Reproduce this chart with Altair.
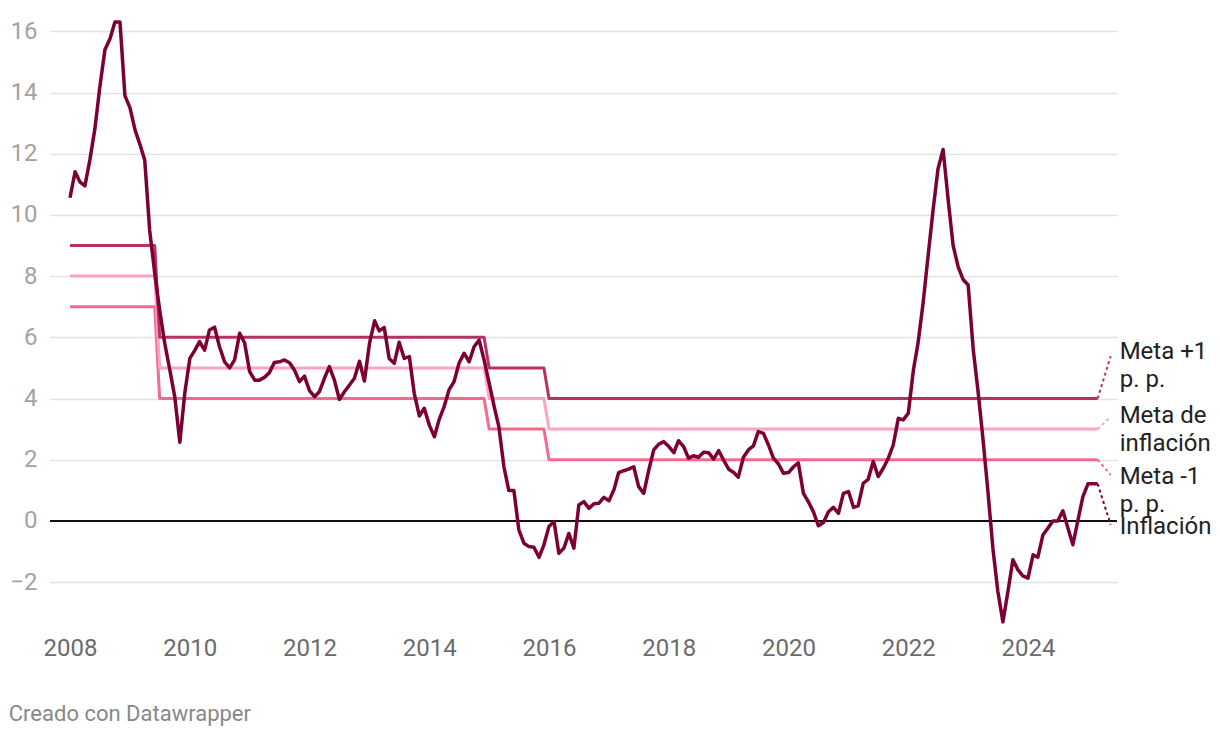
import altair as alt
import pandas as pd

# ---- data (monthly, Jan 2008 .. Mar 2025) ----
inflation = [
    10.56, 11.41, 11.08, 10.95, 11.79, 12.82, 14.18, 15.40, 15.76, 16.30,
    16.30, 13.90, 13.50, 12.77, 12.33, 11.79, 9.50, 8.09, 6.89, 5.80,
    4.93, 4.06, 2.57, 4.17, 5.31, 5.58, 5.86, 5.58, 6.24, 6.33,
    5.69, 5.20, 5.00, 5.26, 6.13, 5.82, 4.88, 4.60, 4.60, 4.69,
    4.84, 5.18, 5.20, 5.26, 5.17, 4.93, 4.55, 4.73, 4.26, 4.06,
    4.22, 4.66, 5.04, 4.60, 3.97, 4.22, 4.44, 4.66, 5.22, 4.57,
    5.80, 6.54, 6.21, 6.32, 5.31, 5.15, 5.84, 5.31, 5.37, 4.17,
    3.43, 3.68, 3.13, 2.75, 3.30, 3.73, 4.28, 4.55, 5.15, 5.48,
    5.20, 5.69, 5.91, 5.26, 4.50, 3.73, 3.08, 1.77, 0.99, 0.99,
    -0.29, -0.73, -0.84, -0.86, -1.19, -0.78, -0.18, -0.02, -1.06, -0.89,
    -0.41, -0.89, 0.52, 0.63, 0.41, 0.56, 0.58, 0.77, 0.66, 1.03,
    1.58, 1.64, 1.69, 1.77, 1.12, 0.90, 1.67, 2.32, 2.51, 2.59,
    2.43, 2.23, 2.62, 2.43, 2.05, 2.13, 2.08, 2.24, 2.23, 2.02,
    2.30, 1.99, 1.69, 1.58, 1.43, 2.08, 2.32, 2.45, 2.92, 2.86,
    2.48, 2.05, 1.86, 1.56, 1.58, 1.77, 1.90, 0.90, 0.63, 0.30,
    -0.16, -0.05, 0.30, 0.44, 0.25, 0.90, 0.96, 0.44, 0.49, 1.23,
    1.36, 1.94, 1.45, 1.72, 2.05, 2.48, 3.35, 3.30, 3.52, 4.93,
    5.80, 7.11, 8.63, 10.16, 11.50, 12.14, 10.50, 9.01, 8.30, 7.89,
    7.71, 5.60, 4.30, 2.70, 1.00, -0.90, -2.30, -3.30, -2.30, -1.27,
    -1.60, -1.80, -1.87, -1.11, -1.19, -0.46, -0.24, 0.00, 0.00, 0.33,
    -0.24, -0.78, 0.03, 0.79, 1.21, 1.21, 1.21,
]

# inflation target (step changes): value and first month it applies
target_values = [8, 5, 4, 3]
target_start = ["2008-01-01", "2009-07-01", "2015-01-01", "2016-01-01"]

series_names = ["Meta -1 p. p.", "Meta de inflación", "Meta +1 p. p.", "Inflación"]
series_colors = ["#f26b8f", "#ffa2c5", "#b8325f", "#7d0035"]

label_lines = ["Meta +1", "p. p.", "Meta de", "inflación", "Meta -1", "p. p.", "Inflación"]
label_series = ["Meta +1 p. p.", "Meta +1 p. p.", "Meta de inflación", "Meta de inflación",
                "Meta -1 p. p.", "Meta -1 p. p.", "Inflación"]
label_y = [5.52, 4.60, 3.43, 2.51, 1.44, 0.52, -0.20]

connector_series = ["Meta +1 p. p.", "Meta de inflación", "Meta -1 p. p.", "Inflación"]
connector_y = [5.38, 3.41, 1.50, -0.12]

year_ticks = [2008, 2010, 2012, 2014, 2016, 2018, 2020, 2022, 2024]
y_ticks = [-2, 0, 2, 4, 6, 8, 10, 12, 14, 16]

# ---- build tables ----
dates = pd.date_range("2008-01-01", periods=len(inflation), freq="MS")
tstarts = pd.to_datetime(target_start)
target = []
for d in dates:
    v = target_values[0]
    for s, tv in zip(tstarts, target_values):
        if d >= s:
            v = tv
    target.append(v)

rows = []
for d, inf, t in zip(dates, inflation, target):
    rows.append({"date": d, "value": t - 1, "series": "Meta -1 p. p."})
    rows.append({"date": d, "value": t, "series": "Meta de inflación"})
    rows.append({"date": d, "value": t + 1, "series": "Meta +1 p. p."})
    rows.append({"date": d, "value": inf, "series": "Inflación"})
df = pd.DataFrame(rows)

last_date = dates[-1]
last_vals = {"Inflación": inflation[-1], "Meta de inflación": target[-1],
             "Meta +1 p. p.": target[-1] + 1, "Meta -1 p. p.": target[-1] - 1}

conn = pd.DataFrame({
    "date": [last_date] * len(connector_series),
    "series": connector_series,
    "y0": [last_vals[s] for s in connector_series],
    "y1": connector_y,
})
labels = pd.DataFrame({
    "date": [last_date] * len(label_lines),
    "text": label_lines,
    "series": label_series,
    "y": label_y,
})
zero = pd.DataFrame({"y": [0]})

FONT = "Roboto"
xscale = alt.Scale(domain=["2007-09-01", "2025-06-27"])
yscale = alt.Scale(domain=[-3.5, 16.5], nice=False, zero=False)
cscale = alt.Scale(domain=series_names, range=series_colors)

xaxis = alt.Axis(
    values=[pd.Timestamp(f"{y}-01-01").isoformat() for y in year_ticks],
    format="%Y", grid=False, ticks=False, domain=False, labelFontSize=24,
    labelColor="#6b6b6b", labelFont=FONT, labelPadding=8, title=None,
)
yaxis = alt.Axis(
    values=y_ticks, grid=True, gridColor="#e3e3e3", gridWidth=1.5, ticks=False,
    domain=False, labelFontSize=24, labelColor="#a3a3a3", labelFont=FONT,
    labelPadding=13, minExtent=37, maxExtent=37, title=None,
)

base = alt.Chart(df)

grid = base.mark_line(opacity=0).encode(
    x=alt.X("date:T", scale=xscale, axis=xaxis),
    y=alt.Y("value:Q", scale=yscale, axis=yaxis),
)

zero_line = alt.Chart(zero).mark_rule(color="#111111", strokeWidth=2).encode(
    y=alt.Y("y:Q", scale=yscale)
)

targets = base.transform_filter(alt.datum.series != "Inflación").mark_line(
    strokeWidth=3, strokeJoin="round"
).encode(
    x=alt.X("date:T", scale=xscale),
    y=alt.Y("value:Q", scale=yscale),
    color=alt.Color("series:N", scale=cscale, legend=None),
    detail="series:N",
)

infl = base.transform_filter(alt.datum.series == "Inflación").mark_line(
    strokeWidth=3.5, strokeJoin="round"
).encode(
    x=alt.X("date:T", scale=xscale),
    y=alt.Y("value:Q", scale=yscale),
    color=alt.Color("series:N", scale=cscale, legend=None),
)

connectors = alt.Chart(conn).mark_rule(strokeWidth=2, strokeDash=[3, 3], x2Offset=13).encode(
    x=alt.X("date:T", scale=xscale),
    x2="date:T",
    y=alt.Y("y0:Q", scale=yscale),
    y2="y1:Q",
    color=alt.Color("series:N", scale=cscale, legend=None),
)

text = alt.Chart(labels).mark_text(
    align="left", baseline="middle", dx=22, fontSize=24, font=FONT, color="#222222"
).encode(
    x=alt.X("date:T", scale=xscale),
    y=alt.Y("y:Q", scale=yscale),
    text="text:N",
)

chart = alt.layer(grid, zero_line, targets, infl, connectors, text).properties(
    width=1067,
    height=612,
    padding={"left": 0, "top": 8, "right": 0, "bottom": 5},
    title=alt.TitleParams(
        "Creado con Datawrapper", orient="bottom", anchor="start", frame="bounds",
        fontSize=22, color="#888888", font=FONT, fontWeight="normal", offset=44, dx=-1,
    ),
).configure(font=FONT, view=alt.ViewConfig(stroke=None))

chart.save("out.html", embed_options={"renderer": "svg", "actions": False})
